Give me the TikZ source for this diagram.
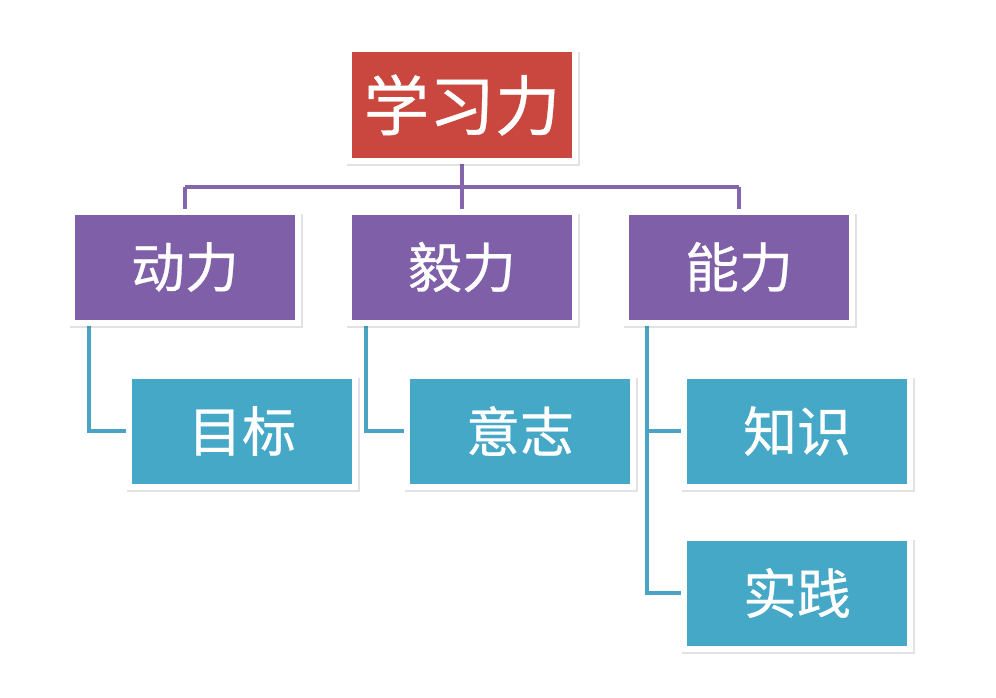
\documentclass[tikz,border=0pt]{standalone}
\usepackage{fontspec}
\setmainfont[UprightFeatures={FakeBold=0.5}]{Noto Sans CJK SC}
\usetikzlibrary{shadows,backgrounds}

\definecolor{TopRed}{HTML}{C9473F}
\definecolor{MidPurple}{HTML}{7F5FA7}
\definecolor{LowAqua}{HTML}{46A8C7}
\definecolor{PurpleLine}{HTML}{8466AA}
\definecolor{AquaLine}{HTML}{4AA3C2}

\begin{document}
\begin{tikzpicture}[x=0.03cm,y=-0.03cm,
    box/.style={draw=white,line width=0.18cm,inner sep=0pt,text=white,
      minimum width=6.78cm,minimum height=3.33cm,
      drop shadow={shadow xshift=0.04cm,shadow yshift=-0.12cm,shadow scale=1.03,
        opacity=0.16,fill=black!70}},
    topbox/.style={box,fill=TopRed,font=\fontsize{56}{60}\selectfont},
    midbox/.style={box,fill=MidPurple,font=\fontsize{46}{50}\selectfont},
    lowbox/.style={box,fill=LowAqua,font=\fontsize{46}{50}\selectfont},
    purpleline/.style={PurpleLine,line width=0.14cm},
    aqualine/.style={AquaLine,line width=0.14cm}]
  \useasboundingbox (0,0) rectangle (996,698);

  \coordinate (bar) at (462,187);
  \node[topbox] (xuexi) at (462,105) {学习力};
  \node[midbox] (dongli) at (185,267) {动力};
  \node[midbox] (yili) at (462,267) {毅力};
  \node[midbox] (nengli) at (739,267) {能力};
  \node[lowbox] (mubiao) at (242,431) {目标};
  \node[lowbox] (yizhi) at (520,431) {意志};
  \node[lowbox] (zhishi) at (797,431) {知识};
  \node[lowbox] (shijian) at (797,593) {实践};

  % connectors go behind the boxes
  \begin{scope}[on background layer]
    \fill[white] (0,0) rectangle (996,698);
    \draw[purpleline] (xuexi.south) -- (dongli.north -| xuexi.south);
    \draw[purpleline] (dongli.north |- bar) -- (nengli.north |- bar);
    \draw[purpleline] (dongli.north |- bar) -- (dongli.north);
    \draw[purpleline] (nengli.north |- bar) -- (nengli.north);

    \draw[aqualine] ([xshift=0.6cm]dongli.south west) |- (mubiao.west);
    \draw[aqualine] ([xshift=0.6cm]yili.south west) |- (yizhi.west);
    \draw[aqualine] ([xshift=0.72cm]nengli.south west) |- (zhishi.west);
    \draw[aqualine] ([xshift=0.72cm]nengli.south west) |- (shijian.west);
  \end{scope}
\end{tikzpicture}
\end{document}
